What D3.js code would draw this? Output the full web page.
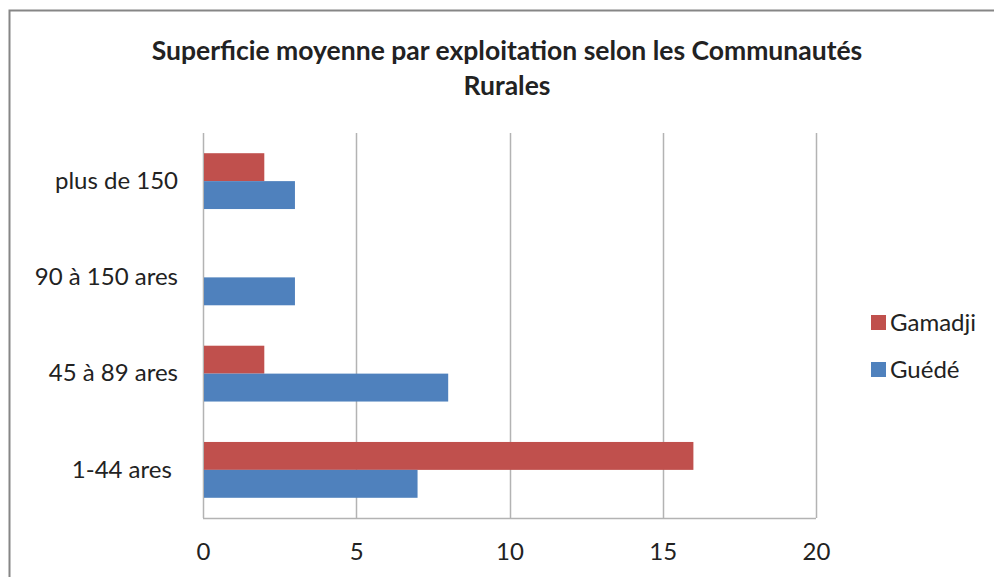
<!DOCTYPE html>
<html>
<head>
<meta charset="utf-8">
<script src="https://cdn.jsdelivr.net/npm/d3@7"></script>
<style>
  body { margin: 0; background: #fff; }
  text { font-family: Lato, "Open Sans", sans-serif; fill: #222; }
</style>
</head>
<body>
<svg id="chart"></svg>
<script>
// data
let categories = ['plus de 150', '90 à 150 ares', '45 à 89 ares', '1-44 ares'];
let seriesNames = ['Gamadji', 'Guédé'];
let gamadji = [2, 0, 2, 16];
let guede = [3, 3, 8, 7];
let xTicks = [0, 5, 10, 15, 20];
let colors = ['#C0504D', '#4F81BD'];
let titleLines = ['Superficie moyenne par exploitation selon les Communautés', 'Rurales'];

function getConfig() {
  let width = 994;
  let height = 577;
  let margin = { top: 133, left: 203, right: 178, bottom: 59 };
  let bodyWidth = width - margin.left - margin.right;
  let bodyHeight = height - margin.top - margin.bottom;
  let container = d3.select('#chart').attr('width', width).attr('height', height);
  return { width, height, margin, bodyWidth, bodyHeight, container };
}

function getScales(config) {
  let { bodyWidth, bodyHeight } = config;
  let xScale = d3.scaleLinear().domain([0, 20]).range([0, bodyWidth]);
  let yScale = d3.scaleBand().domain(categories).range([0, bodyHeight]).paddingInner(0).paddingOuter(0);
  let inner = d3.scaleBand().domain(seriesNames).range([yScale.bandwidth() * 0.21, yScale.bandwidth() * 0.79]);
  return { xScale, yScale, inner };
}

function drawFrame(config) {
  config.container.append('rect')
    .attr('x', 9.5).attr('y', 10.5)
    .attr('width', 1000).attr('height', 600)
    .attr('fill', 'none')
    .attr('stroke', '#868686')
    .attr('stroke-width', 2);
}

function drawTitle(config) {
  config.container.append('g').selectAll('text').data(titleLines)
    .enter().append('text')
    .attr('x', 507)
    .attr('y', (d, i) => 60 + i * 35)
    .attr('text-anchor', 'middle')
    .style('font-weight', 'bold')
    .style('font-size', '26.5px')
    .text(d => d);
}

function drawGrid(config, scales) {
  let { margin, container, bodyHeight } = config;
  let { xScale } = scales;
  let g = container.append('g').attr('transform', `translate(${margin.left},${margin.top})`);
  g.selectAll('line').data(xTicks).enter().append('line')
    .attr('x1', d => Math.round(xScale(d)) + 0.5)
    .attr('x2', d => Math.round(xScale(d)) + 0.5)
    .attr('y1', 0).attr('y2', bodyHeight)
    .attr('stroke', '#B3B3B3').attr('stroke-width', 1.5);
  g.append('line')
    .attr('x1', 0).attr('x2', xScale(20))
    .attr('y1', bodyHeight + 0.5).attr('y2', bodyHeight + 0.5)
    .attr('stroke', '#B3B3B3').attr('stroke-width', 1.5);
}

function drawBars(config, scales) {
  let { margin, container } = config;
  let { xScale, yScale, inner } = scales;
  let body = container.append('g').attr('transform', `translate(${margin.left},${margin.top})`);
  let rows = categories.map((c, i) => ({ cat: c, values: [gamadji[i], guede[i]] }));
  let groups = body.selectAll('.row').data(rows).enter().append('g')
    .attr('class', 'row')
    .attr('transform', d => `translate(0,${yScale(d.cat)})`);
  groups.selectAll('rect')
    .data(d => d.values.map((v, j) => ({ name: seriesNames[j], value: v, color: colors[j] })))
    .enter().append('rect')
    .attr('x', 1)
    .attr('y', d => inner(d.name))
    .attr('height', inner.bandwidth())
    .attr('width', d => Math.max(0, xScale(d.value) - 1))
    .attr('fill', d => d.color);
}

function drawAxes(config, scales) {
  let { margin, container, bodyHeight } = config;
  let { xScale, yScale } = scales;
  let axisX = d3.axisBottom(xScale).tickValues(xTicks).tickSize(0).tickPadding(25);
  let gx = container.append('g')
    .attr('transform', `translate(${margin.left},${margin.top + bodyHeight})`)
    .call(axisX);
  gx.select('.domain').remove();
  gx.selectAll('text').style('font-size', '24px').attr('fill', '#222').style('font-family', 'Lato, sans-serif');

  let axisY = d3.axisLeft(yScale).tickSize(0).tickPadding(25);
  let gy = container.append('g')
    .attr('transform', `translate(${margin.left},${margin.top})`)
    .call(axisY);
  gy.select('.domain').remove();
  gy.selectAll('text').style('font-size', '24px').attr('fill', '#222')
    .style('font-family', 'Lato, sans-serif')
    .style('white-space', 'pre')
    .text(d => d === '1-44 ares' ? d + ' ' : d);
}

function drawLegend(config) {
  let legend = config.container.append('g').attr('transform', 'translate(871,322)');
  let items = legend.selectAll('g').data(seriesNames).enter().append('g')
    .attr('transform', (d, i) => `translate(0,${i * 47})`);
  items.append('rect')
    .attr('x', 0).attr('y', -7).attr('width', 15).attr('height', 15)
    .attr('fill', (d, i) => colors[i]);
  items.append('text')
    .attr('x', 19).attr('y', 9)
    .style('font-size', '24px')
    .text(d => d);
}

function drawChart() {
  let config = getConfig();
  let scales = getScales(config);
  drawFrame(config);
  drawTitle(config);
  drawGrid(config, scales);
  drawBars(config, scales);
  drawAxes(config, scales);
  drawLegend(config);
}

drawChart();
</script>
</body>
</html>
